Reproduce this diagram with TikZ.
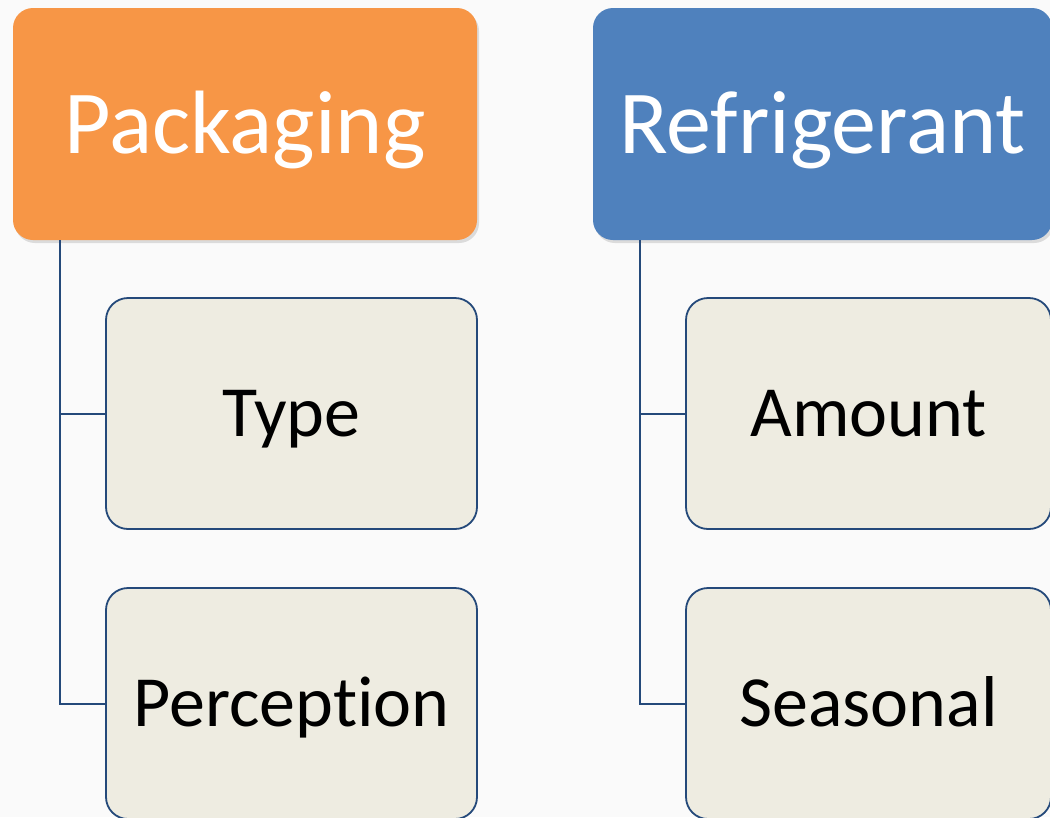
\documentclass[tikz,border=0pt]{standalone}
\usepackage{fontspec}
\setmainfont{Carlito}[Ligatures=NoCommon]
\usetikzlibrary{shadows}
\definecolor{pkorange}{HTML}{F79646}
\definecolor{rfblue}{HTML}{4F81BD}
\definecolor{childfill}{HTML}{EEECE1}
\definecolor{linecol}{HTML}{24497A}
\definecolor{bgcol}{HTML}{FAFAFA}
\tikzset{
  headbox/.style={rectangle, rounded corners=20pt, inner sep=0pt, text=white,
    font=\fontsize{90}{100}\selectfont, text height=58pt, text depth=0pt,
    minimum height=232pt,
    drop shadow={shadow xshift=2pt, shadow yshift=-3pt, opacity=0.25}},
  childbox/.style={rectangle, rounded corners=22pt, inner sep=0pt, fill=childfill,
    draw=linecol, line width=1.8pt, text=black,
    font=\fontsize{72}{80}\selectfont, text height=46pt, text depth=0pt,
    minimum height=231pt},
  conn/.style={draw=linecol, line width=2pt}
}
\begin{document}
\begin{tikzpicture}[x=1pt,y=-1pt]
\useasboundingbox (0,0) rectangle (1050,817);
\clip (0,0) rectangle (1050,817);
\fill[bgcol] (0,0) rectangle (1050,817);
\node[headbox, fill=pkorange, minimum width=464pt] (pack) at (245,124) {Packaging};
\node[headbox, fill=rfblue, minimum width=459pt] (refr) at (822.5,124) {Refrigerant};
\node[childbox, minimum width=371pt] (type) at (291.5,413.5) {Type};
\node[childbox, minimum width=371pt] (perc) at (291.5,703.5) {Perception};
\node[childbox, minimum width=365pt] (amount) at (868.5,413.5) {Amount};
\node[childbox, minimum width=365pt] (seas) at (868.5,703.5) {Seasonal};
\draw[conn] (pack.south west) ++(47,0) |- (type.west);
\draw[conn] (pack.south west) ++(47,0) |- (perc.west);
\draw[conn] (refr.south west) ++(47,0) |- (amount.west);
\draw[conn] (refr.south west) ++(47,0) |- (seas.west);
\end{tikzpicture}
\end{document}
